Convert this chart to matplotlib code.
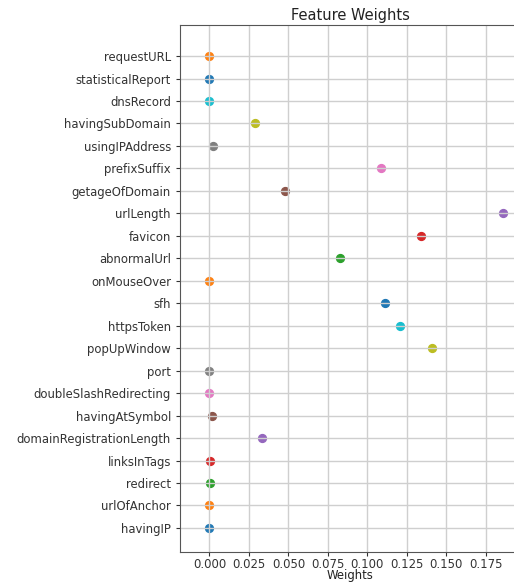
import matplotlib
matplotlib.use("Agg")
import matplotlib.pyplot as plt

# features from bottom to top
features = ["havingIP", "urlOfAnchor", "redirect", "linksInTags",
            "domainRegistrationLength", "havingAtSymbol", "doubleSlashRedirecting",
            "port", "popUpWindow", "httpsToken", "sfh", "onMouseOver",
            "abnormalUrl", "favicon", "urlLength", "getageOfDomain",
            "prefixSuffix", "usingIPAddress", "havingSubDomain", "dnsRecord",
            "statisticalReport", "requestURL"]
weights = [0.0, 0.0, 0.0006, 0.0006,
           0.0334, 0.0015, 0.0,
           0.0, 0.1411, 0.1209, 0.111, 0.0,
           0.0829, 0.1342, 0.186, 0.0479,
           0.1085, 0.0023, 0.0289, 0.0,
           0.0, 0.0]
xticks = [0.0, 0.025, 0.05, 0.075, 0.1, 0.125, 0.15, 0.175]

fig = plt.figure(figsize=(5.14, 5.83), dpi=100)
ax = fig.add_axes([0.3502, 0.0532, 0.6615, 0.9038])

# one scatter call per feature so each dot takes the next cycle colour
for i in range(len(features)):
    ax.scatter(weights[i], i, s=32)

ax.set_yticks(range(len(features)))
ax.set_yticklabels(features)
ax.set_xticks(xticks)
ax.set_xticklabels(["{:.3f}".format(t) for t in xticks])
ax.tick_params(labelsize=8.4, colors="#333333", length=3)
ax.tick_params(axis="x", pad=1.5)
for s in ax.spines.values():
    s.set_color("#555555")
ax.set_xlim(-0.0186, 0.1966)
ax.set_ylim(-1.07, 22.38)
ax.grid(True, color="#cfcfcf", linewidth=1.0)
ax.set_title("Feature Weights", fontsize=10.5, pad=4, color="#222222")
ax.set_xlabel("Weights", fontsize=8.4, color="#222222")
ax.xaxis.set_label_coords(0.5, -0.033)

fig.savefig("out.png", dpi=100)
